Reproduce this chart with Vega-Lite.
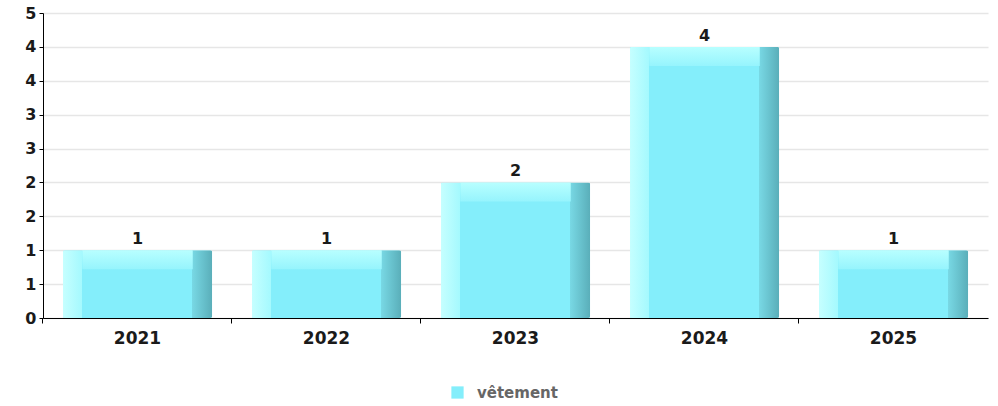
{
  "$schema": "https://vega.github.io/schema/vega-lite/v6.json",
  "autosize": {"type": "none"},
  "width": 945,
  "height": 305,
  "padding": {"left": 43, "top": 13, "right": 10, "bottom": 88},
  "background": "white",
  "config": {
    "view": {"stroke": null},
    "font": "DejaVu Sans",
    "axis": {"labelFont": "DejaVu Sans", "labelFontWeight": "bold", "labelFontSize": 16, "labelColor": "#1a1a1a", "domainColor": "#000000", "tickColor": "#000000", "title": null}
  },
  "data": {
    "values": [
      {"annee": "2021", "valeur": 1, "serie": "vêtement"},
      {"annee": "2022", "valeur": 1, "serie": "vêtement"},
      {"annee": "2023", "valeur": 2, "serie": "vêtement"},
      {"annee": "2024", "valeur": 4, "serie": "vêtement"},
      {"annee": "2025", "valeur": 1, "serie": "vêtement"}
    ]
  },
  "encoding": {
    "x": {"field": "annee", "type": "nominal", "scale": {"paddingInner": 0.21, "paddingOuter": 0.105},
      "axis": {"labelAngle": 0, "bandPosition": -0.134, "tickSize": 5, "labelPadding": 7, "labelFontSize": 17, "grid": false, "domainWidth": 1}},
    "y": {"field": "valeur", "type": "quantitative", "scale": {"domain": [0, 4.5], "nice": false},
      "axis": {"values": [0, 0.5, 1, 1.5, 2, 2.5, 3, 3.5, 4, 4.5], "labelExpr": "round(datum.value)", "tickSize": 4, "labelPadding": 3, "grid": true, "gridColor": "#e6e6e6", "gridWidth": 1.5, "labelOverlap": false}}
  },
  "layer": [
    {
      "mark": {"type": "bar", "cornerRadius": 2},
      "encoding": {
        "color": {"field": "serie", "type": "nominal", "scale": {"range": ["#84eefb"]},
          "legend": {"orient": "none", "legendX": 407, "legendY": 372, "direction": "horizontal", "title": null, "symbolType": "square", "symbolSize": 150, "symbolStrokeWidth": 0, "labelFont": "DejaVu Sans", "labelFontWeight": "bold", "labelFontSize": 15, "labelColor": "#666666", "labelOffset": 12}}
      }
    },
    {
      "mark": {"type": "bar", "cornerRadius": 2, "fill": {"gradient": "linear", "x1": 0, "y1": 0, "x2": 1, "y2": 0,
        "stops": [
          {"offset": 0, "color": "#c6ffff"},
          {"offset": 0.13, "color": "#a4f9fe"},
          {"offset": 0.131, "color": "rgba(132,238,251,0)"},
          {"offset": 0.866, "color": "rgba(132,238,251,0)"},
          {"offset": 0.867, "color": "#78d8e4"},
          {"offset": 1, "color": "#5aaeb9"}
        ]}}
    },
    {
      "mark": {"type": "bar", "y2Offset": 19, "width": {"band": 0.74}, "fill": {"gradient": "linear", "x1": 0, "y1": 0, "x2": 0, "y2": 1,
        "stops": [
          {"offset": 0, "color": "#b8ffff"},
          {"offset": 1, "color": "#96f4fd"}
        ]}},
      "encoding": {"y2": {"field": "valeur"}}
    },
    {
      "mark": {"type": "text", "dy": -11, "fontWeight": "bold", "fontSize": 16, "font": "DejaVu Sans", "color": "#1a1a1a"},
      "encoding": {"text": {"field": "valeur", "type": "quantitative"}}
    }
  ]
}
